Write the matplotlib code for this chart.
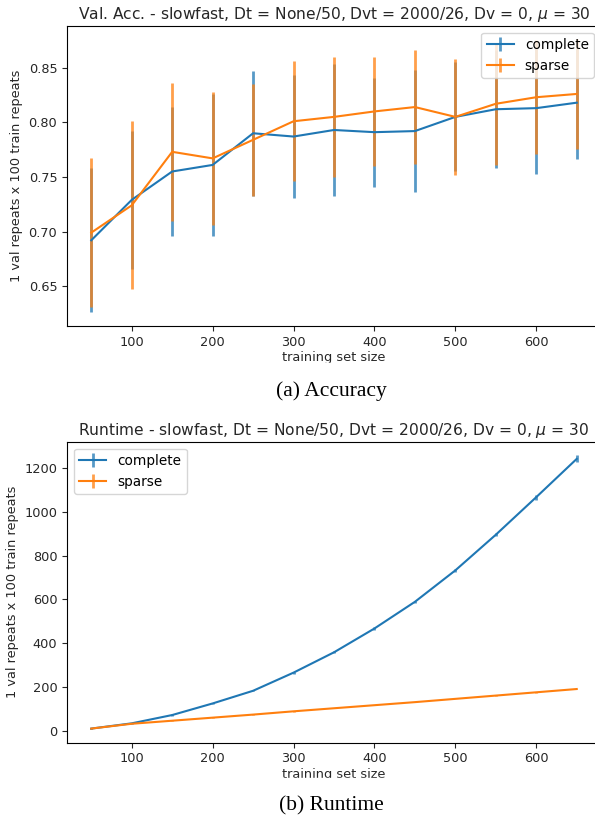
import matplotlib
matplotlib.use("Agg")
import matplotlib.pyplot as plt
from matplotlib.patches import Rectangle

# ---------------- data ----------------
train_sizes = [50, 100, 150, 200, 250, 300, 350, 400, 450, 500, 550, 600, 650]

acc_complete = [0.692, 0.729, 0.755, 0.761, 0.790, 0.787, 0.793, 0.791, 0.792, 0.805, 0.812, 0.813, 0.818]
acc_complete_err = [0.066, 0.063, 0.059, 0.065, 0.057, 0.056, 0.060, 0.050, 0.056, 0.050, 0.054, 0.060, 0.052]
acc_sparse = [0.699, 0.724, 0.773, 0.767, 0.784, 0.801, 0.805, 0.810, 0.814, 0.805, 0.817, 0.823, 0.826]
acc_sparse_err = [0.068, 0.077, 0.063, 0.061, 0.051, 0.055, 0.055, 0.050, 0.052, 0.053, 0.056, 0.052, 0.050]

rt_complete = [9, 33, 71, 124, 182, 265, 358, 467, 589, 733, 896, 1068, 1243]
rt_complete_err = [2, 2, 3, 3, 3, 4, 4, 5, 5, 7, 8, 11, 16]
rt_sparse = [9, 31, 45, 59, 73, 88, 102, 116, 130, 145, 160, 175, 190]
rt_sparse_err = [1, 1, 1, 1, 1, 1, 1, 1, 1, 1, 1, 1, 2]

xtick_values = [100, 200, 300, 400, 500, 600]
series_labels = ["complete", "sparse"]
title_suffix = r"slowfast, Dt = None/50, Dvt = 2000/26, Dv = 0, $\mu$ = 30"
titles = ["Val. Acc. - " + title_suffix, "Runtime - " + title_suffix]
xlabel = "training set size"
ylabel = "1 val repeats x 100 train repeats"
captions = ["(a) Accuracy", "(b) Runtime"]

# ---------------- figure ----------------
W, H = 595, 823
fig = plt.figure(figsize=(W / 100, H / 100), dpi=100)
fs = 9.3
plt.rcParams["font.family"] = ["DejaVu Sans"]
plt.rcParams["mathtext.fontset"] = "dejavusans"

text_color = "#262626"

def px_rect(left, top, right, bottom):
    return [left / W, 1 - bottom / H, (right - left) / W, (bottom - top) / H]

ax1 = fig.add_axes(px_rect(67, 25.7, 601, 326))
ax2 = fig.add_axes(px_rect(67, 441.7, 601, 742.7))

colors = ["#1f77b4", "#ff7f0e"]

def draw(ax, ys, errs, title, legend_loc):
    for y, e, c, lab in zip(ys, errs, colors, series_labels):
        cont = ax.errorbar(train_sizes, y, yerr=e, color=c, lw=1.5,
                           elinewidth=2.0, label=lab)
        for lc in cont[2]:
            lc.set_alpha(0.75)
    ax.set_xticks(xtick_values)
    ax.tick_params(labelsize=fs, colors=text_color, labelcolor=text_color)
    ax.spines["right"].set_visible(False)
    ax.set_title(title, fontsize=fs * 1.2, color=text_color, pad=5)
    ax.set_xlabel(xlabel, fontsize=fs, color=text_color, labelpad=2)
    ax.set_ylabel(ylabel, fontsize=fs, color=text_color, labelpad=4)
    ax.legend(loc=legend_loc, fontsize=9.8)

draw(ax1, [acc_complete, acc_sparse], [acc_complete_err, acc_sparse_err], titles[0], "upper right")
ax1.set_yticks([0.65, 0.70, 0.75, 0.80, 0.85])
ax1.set_yticklabels(["0.65", "0.70", "0.75", "0.80", "0.85"])
draw(ax2, [rt_complete, rt_sparse], [rt_complete_err, rt_sparse_err], titles[1], "upper left")

# cropping of the original sub-figures (clips descenders of the x label)
for top, bottom in [(363, 378), (778, 795)]:
    fig.patches.append(Rectangle((0, 1 - bottom / H), 1, (bottom - top) / H,
                                 transform=fig.transFigure, color="white", zorder=10))

for cap, yc in zip(captions, [391, 806]):
    fig.text(331 / W, 1 - yc / H, cap, ha="center", va="center",
             fontsize=15.5, family="Liberation Serif", color="black", zorder=11)

fig.savefig("out.png", dpi=100)
